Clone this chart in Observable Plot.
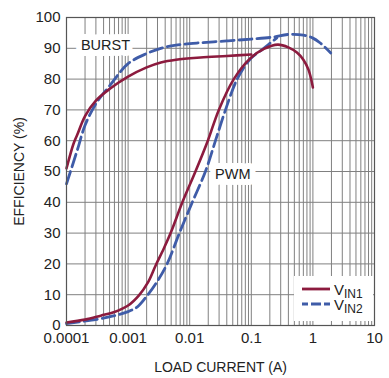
<!DOCTYPE html>
<html><head><meta charset="utf-8">
<script src="https://cdn.jsdelivr.net/npm/d3@7"></script>
<script src="https://cdn.jsdelivr.net/npm/@observablehq/plot@0.6"></script>
<style>
body{margin:0;background:#fff;}
#chart{position:relative;width:389px;height:378px;}
.legend{position:absolute;left:294px;top:276px;width:79px;height:45px;background:#fff;font-family:"Liberation Sans",Arial,sans-serif;color:#222;}
.legend .row{position:absolute;left:6px;height:14px;}
.legend .lbl{position:absolute;left:40px;font-size:15px;line-height:17px;white-space:nowrap;}
.legend .lbl sub{font-size:12px;vertical-align:-3px;line-height:0;}
</style>
</head><body>
<div id="chart"></div>
<script>
// ---- data ----
const vin1BurstX = [0.0001, 0.00013, 0.00015, 0.0002, 0.0003, 0.0005, 0.001, 0.002, 0.0034, 0.006, 0.015, 0.04, 0.1];
const vin1BurstY = [51, 59, 62, 68, 73, 76.8, 80.8, 83.8, 85.4, 86.3, 87, 87.5, 88];
const vin1PwmX = [0.0001, 0.0002, 0.00036, 0.0006, 0.001, 0.0015, 0.0021, 0.0028, 0.0038, 0.0049, 0.0076, 0.0124, 0.0197, 0.0297, 0.052, 0.097, 0.16, 0.27, 0.4, 0.55, 0.7, 0.85, 1.0];
const vin1PwmY = [1, 1.9, 3.2, 4.4, 6.5, 9.8, 14, 19.5, 25, 30, 40, 50, 60, 70, 80, 86.8, 89.8, 91.2, 90.3, 88.6, 86.3, 83, 77.3];
const vin2BurstX = [0.0001, 0.00015, 0.0002, 0.0003, 0.0005, 0.001, 0.002, 0.0034, 0.006, 0.015, 0.04, 0.1, 0.22, 0.4, 0.7, 1.0, 1.3, 1.6, 1.95];
const vin2BurstY = [46, 57, 65, 72, 77.8, 85, 88.3, 90, 91, 91.8, 92.4, 93, 93.6, 94.5, 94.3, 93.3, 91.8, 90.2, 88.5];
const vin2PwmX = [0.0001, 0.00036, 0.0006, 0.001, 0.0014, 0.002, 0.0029, 0.0043, 0.0068, 0.011, 0.018, 0.0262, 0.0381, 0.059, 0.097, 0.15, 0.2, 0.26];
const vin2PwmY = [0.6, 2.2, 3.2, 4.5, 6, 9.5, 14, 20, 30, 40, 50, 60, 70, 80, 86.6, 89.6, 91.6, 93.4];
const xTicks = [0.0001, 0.001, 0.01, 0.1, 1, 10];
const yTicks = [0, 10, 20, 30, 40, 50, 60, 70, 80, 90, 100];
const labels = [{text: "BURST", x: 0.00043, y: 91}, {text: "PWM", x: 0.05, y: 49}];

const RED = "#8c1b3e", BLUE = "#3f5ca8";
const toRows = (xs, ys) => xs.map((x, i) => ({x, y: ys[i]}));
const xGrid = [];
for (let e = -4; e < 1; e++) for (let m = 1; m <= 9; m++) xGrid.push(m * Math.pow(10, e));
xGrid.push(10);

const FONT = '"Liberation Sans",Arial,sans-serif';
const plot = Plot.plot({
  width: 389, height: 378,
  marginLeft: 66, marginRight: 15, marginTop: 17, marginBottom: 53,
  style: {fontFamily: FONT, fontSize: "15px", color: "#222", background: "#fff"},
  x: {type: "log", domain: [0.0001, 10], ticks: xTicks, tickFormat: d => String(d), tickSize: 0, tickPadding: 7,
      label: null},
  y: {domain: [0, 100], ticks: yTicks, tickSize: 0, tickPadding: 6, label: null},
  marks: [
    Plot.ruleX(xGrid, {stroke: "#808080", strokeWidth: 1}),
    Plot.ruleY(yTicks, {stroke: "#808080", strokeWidth: 1}),
    Plot.text(labels, {x: "x", y: "y", text: "text", fill: "#222", stroke: "white", strokeWidth: 12, fontSize: 14.5}),
    Plot.line(toRows(vin2PwmX, vin2PwmY), {x: "x", y: "y", stroke: BLUE, strokeWidth: 2.8, strokeDasharray: "13,5", curve: "catmull-rom"}),
    Plot.line(toRows(vin2BurstX, vin2BurstY), {x: "x", y: "y", stroke: BLUE, strokeWidth: 2.8, strokeDasharray: "13,5", curve: "catmull-rom"}),
    Plot.line(toRows(vin1PwmX, vin1PwmY), {x: "x", y: "y", stroke: RED, strokeWidth: 2.6, curve: "catmull-rom"}),
    Plot.line(toRows(vin1BurstX, vin1BurstY), {x: "x", y: "y", stroke: RED, strokeWidth: 2.6, curve: "catmull-rom"}),
    Plot.frame({stroke: "#555", strokeWidth: 1.2}),
    Plot.axisX(xTicks, {tickSize: 0, tickPadding: 7, tickFormat: d => String(d), label: "LOAD CURRENT (A)", labelAnchor: "center", labelOffset: 46, labelArrow: "none", fontSize: 15, ticks: []}),
    Plot.axisY(yTicks, {tickSize: 0, tickPadding: 6, label: "EFFICIENCY (%)", labelAnchor: "center", labelOffset: 52, labelArrow: "none", fontSize: 15, ticks: []})
  ]
});
plot.querySelectorAll("g[aria-label='x-axis label'] text, g[aria-label='y-axis label'] text").forEach(t => t.setAttribute("font-size", "14"));
const chart = document.getElementById("chart");
chart.appendChild(plot);

// legend overlay inside the plot frame
const seriesNames = [{name: "IN1", color: RED, dash: null, top: 4}, {name: "IN2", color: BLUE, dash: "6,3,10,3,10,3", top: 19}];
const leg = document.createElement("div");
leg.className = "legend";
seriesNames.forEach(s => {
  const row = document.createElement("div");
  row.className = "row";
  row.style.top = s.top + "px";
  row.innerHTML = `<svg width="32" height="14"><line x1="2" y1="9" x2="30" y2="9" stroke="${s.color}" stroke-width="2.8" ${s.dash ? `stroke-dasharray="${s.dash}"` : ""}/></svg>`;
  leg.appendChild(row);
  const lbl = document.createElement("div");
  lbl.className = "lbl";
  lbl.style.top = (s.top + 1) + "px";
  lbl.innerHTML = `V<sub>${s.name}</sub>`;
  leg.appendChild(lbl);
});
chart.appendChild(leg);
</script>
</body></html>
